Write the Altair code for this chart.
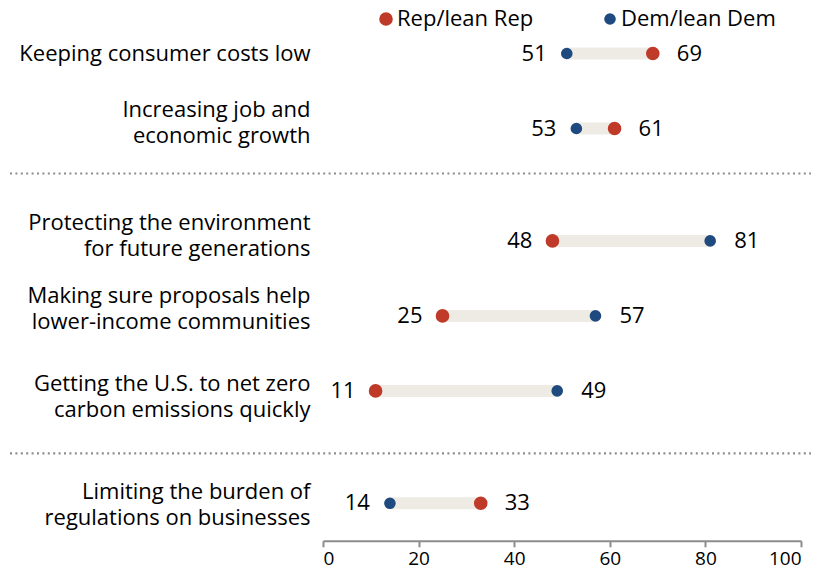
import altair as alt
import pandas as pd

categories = [
    "Keeping consumer costs low",
    "Increasing job and|economic growth",
    "Protecting the environment|for future generations",
    "Making sure proposals help|lower-income communities",
    "Getting the U.S. to net zero|carbon emissions quickly",
    "Limiting the burden of|regulations on businesses",
]
groups = [1, 1, 2, 2, 2, 3]
rep = [69, 61, 48, 25, 11, 33]
dem = [51, 53, 81, 57, 49, 14]
ticks = [0, 20, 40, 60, 80, 100]

REP = "Rep/lean Rep"
DEM = "Dem/lean Dem"
RED = "#BF3A28"
BLUE = "#1F4A80"
FONT = "Open Sans"
SEP = "#8c8c8c"

wide = pd.DataFrame({"label": categories, "group": groups, REP: rep, DEM: dem})

color = alt.Color("party:N", scale=alt.Scale(domain=[REP, DEM], range=[RED, BLUE]),
                  legend=alt.Legend(title=None, orient="none", direction="horizontal",
                                    legendX=52, legendY=-8, labelFontSize=22, labelFont=FONT,
                                    labelColor="black", symbolType="circle", labelOffset=0,
                                    columnPadding=65, symbolStrokeWidth=0))
size = alt.Size("party:N", scale=alt.Scale(domain=[REP, DEM], range=[185, 135]), legend=None)


def sep_rule(y, col=SEP):
    return alt.Chart(pd.DataFrame({"s": [0]})).mark_rule(
        color=col, strokeWidth=2.2, strokeDash=[2, 3.4]).encode(
        x=alt.value(-313), x2=alt.value(488), y=alt.value(y))


def panel(g, last, offsets, extra=()):
    sub = wide[wide.group == g]
    order = list(sub.label)
    xaxis = alt.Axis(values=ticks, grid=False, title=None,
                     domainColor="#8c8c8c", domainWidth=2, tickColor="#8c8c8c",
                     tickWidth=2, tickSize=6, labelFontSize=19, labelFont=FONT,
                     labelColor="black", labelPadding=3) if last else None
    x_scale = alt.Scale(domain=[0, 100], nice=False)
    conds = [{"test": f"indexof(datum.value, '{k}') == 0", "value": v} for k, v in offsets]
    lab_off = {"condition": conds, "value": 0} if conds else 0
    y = alt.Y("label:N", sort=order, title=None,
              axis=alt.Axis(ticks=False, domain=False, labelPadding=13, labelFontSize=22,
                            labelFont=FONT, labelColor="black", labelLimit=400,
                            labelOffset=lab_off,
                            labelLineHeight=26, labelExpr="split(datum.label, '|')"))
    base = alt.Chart(sub)
    bar = base.transform_calculate(
        lo=f"min(datum['{REP}'], datum['{DEM}'])",
        hi=f"max(datum['{REP}'], datum['{DEM}'])",
    ).mark_rule(strokeWidth=12, color="#EDEBE4").encode(
        x=alt.X("lo:Q", scale=x_scale, axis=xaxis), x2="hi:Q", y=y)
    long = base.transform_fold([REP, DEM], as_=["party", "value"]).transform_joinaggregate(
        vmin="min(value)", groupby=["label"])
    pts = long.mark_point(filled=True, opacity=1).encode(
        x=alt.X("value:Q", scale=x_scale), y=y, color=color, size=size)
    left_txt = long.transform_filter("datum.value == datum.vmin").mark_text(
        align="right", dx=-20, fontSize=22, font=FONT, color="black").encode(
        x="value:Q", y=y, text="value:Q")
    right_txt = long.transform_filter("datum.value != datum.vmin").mark_text(
        align="left", dx=24, fontSize=22, font=FONT, color="black").encode(
        x="value:Q", y=y, text="value:Q")
    layers = [bar, pts, left_txt, right_txt] + list(extra)
    return alt.layer(*layers).properties(width=478, height=alt.Step(75))


p1 = panel(1, False, [("Increasing", -19)],
           extra=[sep_rule(157.5), sep_rule(162.5, "white")])
p2 = panel(2, False, [("Protecting", -18), ("Making", -20), ("Getting", -7)])
p3 = panel(3, True, [("Limiting", -11)], extra=[sep_rule(-12.5)])

chart = alt.vconcat(p1, p2, p3, spacing=23.4).properties(
    padding=0).configure(font=FONT).configure_view(strokeWidth=0, stroke="transparent")

chart.save("out.html", embed_options={"renderer": "svg", "actions": False})
